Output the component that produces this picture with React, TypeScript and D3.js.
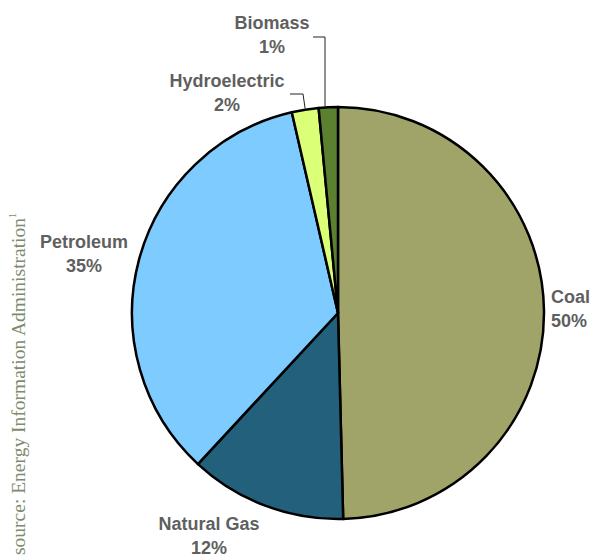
import React from "react";
import * as d3 from "d3";

const categories = ["Coal", "Natural Gas", "Petroleum", "Hydroelectric", "Biomass"];
const values = [49.6, 12.3, 34.5, 2.1, 1.5];
const percentLabels = ["50%", "12%", "35%", "2%", "1%"];
const colors = ["#a0a468", "#22607c", "#7dcbff", "#dcff78", "#5a8030"];
const sourceText = "source: Energy Information Administration";

const W = 592, H = 557;
const cx = 338, cy = 313, R = 206;

export default function App() {
  const pie = d3.pie<number>().sort(null).value((d) => d)(values);
  const arc = d3.arc<d3.PieArcDatum<number>>().innerRadius(0).outerRadius(R);
  const outer = (a: number, r: number) => [Math.sin(a) * r, -Math.cos(a) * r];

  // label positions (relative to centre) chosen per slice
  const labelPos: [number, number, string][] = [
    [213, -10, "start"],
    [-129, 217, "middle"],
    [-254, -65, "middle"],
    [-111, -226, "middle"],
    [-66, -284, "middle"],
  ];

  const mid = (i: number) => (pie[i].startAngle + pie[i].endAngle) / 2;
  const [hx, hy] = outer(mid(3), R);
  const [bx, by] = outer(mid(4), R);

  return (
    <svg width={W} height={H} style={{ position: "absolute", left: 0, top: 0 }}>
      <rect width={W} height={H} fill="#fff" />
      <g transform={`translate(${cx},${cy})`}>
        {pie.map((p, i) => (
          <path key={i} d={arc(p) || ""} fill={colors[i]} stroke="#000" strokeWidth={2.5} strokeLinejoin="round" />
        ))}
        {/* leader lines */}
        <polyline points={`${-48},${-219} ${-35},${-219} ${hx},${hy - 1}`} fill="none" stroke="#222" strokeWidth={1} />
        <polyline points={`${-25},${-276} ${-13},${-276} ${-13},${by - 1}`} fill="none" stroke="#222" strokeWidth={1} />
        {labelPos.map(([x, y, anchor], i) => (
          <text key={i} x={x} y={y} textAnchor={anchor as any} fontFamily="Liberation Sans, Arial, sans-serif" fontWeight="bold" fontSize={18} fill="#5f5f5f">
            <tspan x={x}>{categories[i]}</tspan>
            <tspan x={x} dy={23.5}>{percentLabels[i]}</tspan>
          </text>
        ))}
      </g>
      <text transform="translate(25,555) rotate(-90)" fontFamily="Liberation Serif, Times New Roman, serif" fontSize={19.5} fill="#7d8a6e">
        {sourceText}
        <tspan fontSize={10} dy={-9}>1</tspan>
      </text>
    </svg>
  );
}
